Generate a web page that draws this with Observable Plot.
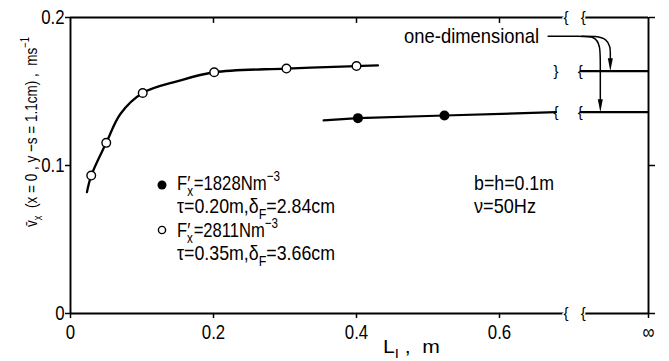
<!DOCTYPE html>
<html><head><meta charset="utf-8">
<script src="https://cdn.jsdelivr.net/npm/d3@7"></script>
<script src="https://cdn.jsdelivr.net/npm/@observablehq/plot@0.6"></script>
<style>
body{margin:0;background:#fff;}
#chart svg{font-family:"Liberation Sans",Arial,sans-serif;background:#fff;}
</style></head><body><div id="chart"></div>
<script>
// position standing for "infinity" on the broken x axis
const XINF = 0.8084;
// open circles: F'x = 2811 N/m^3
const openX = [0.029, 0.050, 0.101, 0.201, 0.302, 0.400];
const openY = [0.0932, 0.1153, 0.149, 0.163, 0.1655, 0.1672];
// hand-drawn curve through the open circles
const openFitX = [0.023, 0.029, 0.050, 0.070, 0.101, 0.150, 0.201, 0.302, 0.400, 0.430];
const openFitY = [0.082, 0.0932, 0.1153, 0.135, 0.149, 0.157, 0.163, 0.1655, 0.1672, 0.1676];
// filled circles: F'x = 1828 N/m^3
const fullX = [0.402, 0.523];
const fullY = [0.132, 0.1338];
const fullFitX = [0.354, 0.402, 0.523, 0.679];
const fullFitY = [0.1305, 0.132, 0.1338, 0.136];
// one-dimensional values (at infinity)
const oneDimY = [0.1637, 0.136];
// breaks
const axisBreak = [0.693, 0.717];
const lineBreak = [0.679, 0.713];
// ticks
const xTicks = [0, 0.2, 0.4, 0.6, XINF];
const xTickLabels = ["0", "0.2", "0.4", "0.6", "∞"];
const yTicks = [0, 0.1, 0.2];
const yTickLabels = ["0", "0.1", "0.2"];
const topTicks = [0.2, 0.4, 0.6];
// annotation arrows (one-dimensional)
const arrowLowX = [0.668, 0.715, 0.733, 0.741, 0.741, 0.741];
const arrowLowY = [0.1874, 0.1874, 0.1874, 0.181, 0.170, 0.1445];
const arrowHighX = [0.715, 0.735, 0.750, 0.755, 0.755, 0.755];
const arrowHighY = [0.1874, 0.1874, 0.1855, 0.180, 0.176, 0.172];

const openData = openX.map((x, i) => ({x, y: openY[i]}));
const openFit = openFitX.map((x, i) => ({x, y: openFitY[i]}));
const fullData = fullX.map((x, i) => ({x, y: fullY[i]}));
const fullFit = fullFitX.map((x, i) => ({x, y: fullFitY[i]}));
const arrowLow = arrowLowX.map((x, i) => ({x, y: arrowLowY[i]}));
const arrowHigh = arrowHighX.map((x, i) => ({x, y: arrowHighY[i]}));
const arrowTips = [{x: arrowLowX[5], y: oneDimY[1]}, {x: arrowHighX[5], y: oneDimY[0]}];

const narrowTri = {draw(ctx, size) { const h = 13, w = 5; ctx.moveTo(0, h/2); ctx.lineTo(-w/2, -h/2); ctx.lineTo(w/2, -h/2); ctx.closePath(); }};

const breaksAxis = [];
for (const y of [0, 0.2]) { breaksAxis.push({x: axisBreak[0], y}); breaksAxis.push({x: axisBreak[1], y}); }
const breaksLine = [
  {x: lineBreak[0], y: oneDimY[1], t: "{"}, {x: lineBreak[1], y: oneDimY[1], t: "{"},
  {x: lineBreak[0], y: oneDimY[0], t: "}"}, {x: lineBreak[1], y: oneDimY[0], t: "{"}
];

const sw = 1.9;
const chart = Plot.plot({
  width: 669, height: 361,
  marginLeft: 70, marginRight: 21, marginTop: 17, marginBottom: 48,
  x: {domain: [0, XINF]},
  y: {domain: [0, 0.2]},
  marks: [
    Plot.ruleX([0, XINF], {y1: 0, y2: 0.2, strokeWidth: sw}),
    Plot.ruleY([0, 0.2], {x1: 0, x2: axisBreak[0], strokeWidth: sw}),
    Plot.ruleY([0, 0.2], {x1: axisBreak[1], x2: XINF, strokeWidth: sw}),
    Plot.axisX({ticks: xTicks, tickFormat: (d, i) => xTickLabels[i], tickSize: 5, tickPadding: 6, fontSize: 21, label: null, strokeWidth: 1.5, className: "sq"}),
    Plot.axisY({ticks: yTicks, tickFormat: (d, i) => yTickLabels[i], tickSize: 5, tickPadding: 1, fontSize: 21, label: null, strokeWidth: 1.5, className: "sq"}),
    Plot.axisY({anchor: "right", ticks: yTicks, tickFormat: () => "", tickSize: 6, label: null, strokeWidth: 1.5}),
    Plot.ruleX(topTicks, {y1: 0.2, y2: 0.2 - 0.004, strokeWidth: 1.5}),
    Plot.text(breaksAxis, {x: "x", y: "y", text: () => "{", fontSize: 15, fill: "black", stroke: "white", strokeWidth: 3, paintOrder: "stroke"}),
    Plot.line(openFit, {x: "x", y: "y", curve: "catmull-rom", strokeWidth: 2.3}),
    Plot.line(fullFit, {x: "x", y: "y", strokeWidth: 2.2}),
    Plot.ruleY(oneDimY, {x1: lineBreak[1], x2: XINF, strokeWidth: 2.2}),
    Plot.text(breaksLine, {x: "x", y: "y", text: "t", fontSize: 15, fill: "black"}),
    Plot.line(arrowLow, {x: "x", y: "y", curve: "basis", strokeWidth: 1.5}),
    Plot.line(arrowHigh, {x: "x", y: "y", curve: "basis", strokeWidth: 1.5}),
    Plot.dot(arrowTips, {x: "x", y: "y", symbol: narrowTri, fill: "black", stroke: "none", r: 5, dy: -6.5}),
    Plot.text(["one-dimensional"], {x: arrowLowX[0], y: arrowLowY[0], textAnchor: "end", dx: -9, fontSize: 21, fill: "black", className: "onedim"}),
    Plot.dot(openData, {x: "x", y: "y", r: 4.3, fill: "white", stroke: "black", strokeWidth: 1.4}),
    Plot.dot(fullData, {x: "x", y: "y", r: 5, fill: "black"})
  ]
});
document.getElementById("chart").appendChild(chart);

function squeeze(el, k, target) {
  const L = el.getComputedTextLength();
  el.setAttribute("textLength", target != null ? target : L * k);
  el.setAttribute("lengthAdjust", "spacingAndGlyphs");
}
// rich text helper: segments [text, kind, dx] kind: 0 normal, 1 sub, 2 sup
function rich(g, x, y, segs, size, target, extra) {
  const t = g.append("text").attr("x", x).attr("y", y).attr("font-size", size)
    .attr("fill", "black").attr("text-anchor", "start");
  if (extra) extra(t);
  let off = 0;
  for (const [s, k, dx] of segs) {
    const sp = t.append("tspan").text(s);
    const target = k === 1 ? 0.28 * size : k === 2 ? -0.45 * size : 0;
    if (target !== off) { sp.attr("dy", target - off); off = target; }
    if (k) sp.attr("font-size", size * 0.7);
    if (dx) sp.attr("dx", dx);
  }
  squeeze(t.node(), 0.8, target);
  return t;
}
const svg = d3.select(chart);
svg.selectAll(".sq text").each(function() { squeeze(this, 0.8); });
svg.selectAll(".onedim text").each(function() { squeeze(this, 1, 135); });
const g = svg.append("g");
const fs = 21;
// legend symbols
g.append("circle").attr("cx", 162).attr("cy", 185).attr("r", 4.5).attr("fill", "black");
g.append("circle").attr("cx", 162).attr("cy", 230).attr("r", 3.6).attr("fill", "white").attr("stroke", "black").attr("stroke-width", 1.4);
rich(g, 177, 190, [["F′", 0], ["x", 1, -4], ["=1828Nm", 0, 1], ["−3", 2]], fs, 103);
rich(g, 177, 213, [["τ=0.20m,δ", 0], ["F", 1], ["=2.84cm", 0]], fs, 158);
rich(g, 177, 237, [["F′", 0], ["x", 1, -4], ["=2811Nm", 0, 1], ["−3", 2]], fs, 101);
rich(g, 177, 260, [["τ=0.35m,δ", 0], ["F", 1], ["=3.66cm", 0]], fs, 158);
rich(g, 474, 190, [["b=h=0.1m", 0]], fs, 80);
rich(g, 474, 213, [["ν=50Hz", 0]], fs, 62);
// x label
rich(g, 383, 353, [["L", 0], ["I", 1], [" ,  m", 0]], 19, 57);
// y label
rich(g, 0, 0, [["v̄", 0], ["x", 1], ["  (x = 0 , y −s = 1.1cm) ,  ms", 0], ["−1", 2]], 17, 190,
  t => t.attr("text-anchor", "middle").attr("transform", "translate(37,132) rotate(-90)"));
</script></body></html>
